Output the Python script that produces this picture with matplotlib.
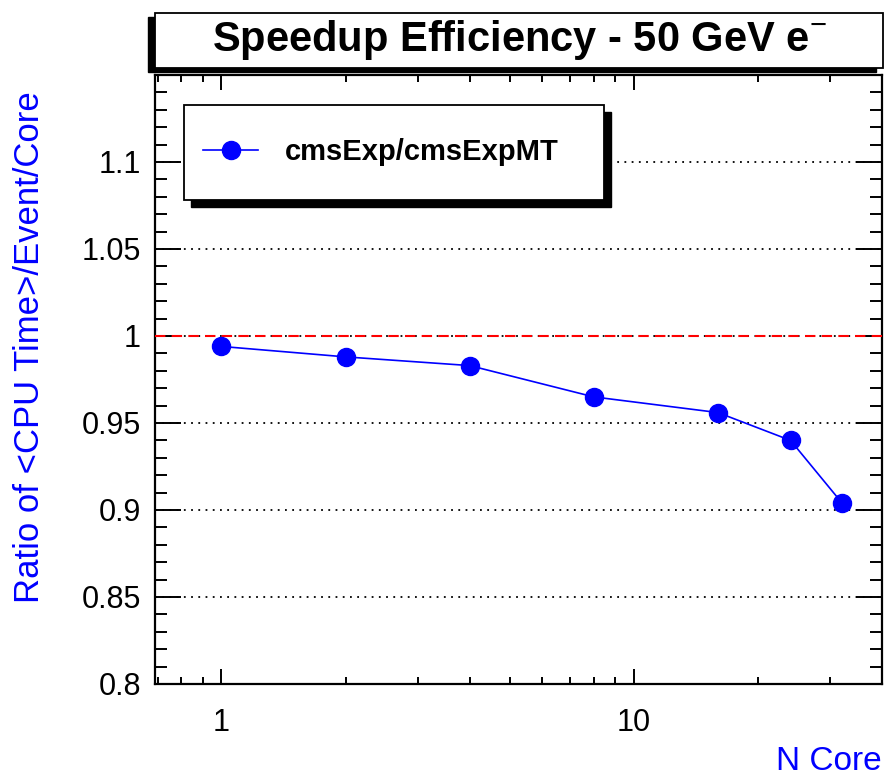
import matplotlib
matplotlib.use("Agg")
import matplotlib.pyplot as plt
from matplotlib.patches import Rectangle
from matplotlib.ticker import LogLocator, MultipleLocator, NullFormatter, FuncFormatter

# data
n_core = [1, 2, 4, 8, 16, 24, 32]
ratio = [0.994, 0.988, 0.983, 0.965, 0.956, 0.940, 0.904]
series_label = "cmsExp/cmsExpMT"
title = "Speedup Efficiency - 50 GeV e$^{-}$"
x_label = "N Core"
y_label = "Ratio of <CPU Time>/Event/Core"

plt.rcParams['font.family'] = ['Liberation Sans', 'DejaVu Sans']
plt.rcParams['mathtext.fontset'] = 'custom'
plt.rcParams['mathtext.rm'] = 'Liberation Sans'
plt.rcParams['mathtext.bf'] = 'Liberation Sans:bold'

fig = plt.figure(figsize=(8.86, 7.77), dpi=100)
ax = fig.add_axes([155 / 886, 1 - 684 / 777, (882 - 155) / 886, (684 - 75) / 777])

ax.plot(n_core, ratio, color='blue', lw=1.2, marker='o', markersize=13,
        label=series_label, zorder=4)
ax.axhline(1.0, color='red', lw=1.5, linestyle=(0, (5, 3)), zorder=3)

ax.set_xscale('log')
ax.set_xlim(0.69, 40)
ax.set_ylim(0.8, 1.15)

ax.xaxis.set_major_locator(LogLocator(base=10, numticks=10))
ax.xaxis.set_minor_locator(LogLocator(base=10, subs=range(2, 10), numticks=20))
ax.xaxis.set_major_formatter(FuncFormatter(lambda v, p: f"{v:g}"))
ax.xaxis.set_minor_formatter(NullFormatter())
ax.yaxis.set_major_locator(MultipleLocator(0.05))
ax.yaxis.set_minor_locator(MultipleLocator(0.01))
ax.yaxis.set_major_formatter(FuncFormatter(lambda v, p: f"{v:.10g}" if v < 1.149 else ""))

ax.tick_params(axis='both', which='both', direction='in', top=True, right=True,
               width=1.4, labelsize=22)
ax.tick_params(axis='y', which='major', length=19, pad=10)
ax.tick_params(axis='y', which='minor', length=8.5)
ax.tick_params(axis='x', which='major', length=11, pad=17)
ax.tick_params(axis='x', which='minor', length=5)
for s in ax.spines.values():
    s.set_linewidth(1.6)

ax.grid(axis='y', which='major', color='black', lw=1.3, linestyle=(0, (1, 3)))
ax.set_axisbelow(True)

ax.set_xlabel(x_label, color='blue', fontsize=24, loc='right')
ax.xaxis.set_label_coords(1.0, -(762 - 684) / 609)
ax.xaxis.label.set_va('center')
ax.set_ylabel(y_label, color='blue', fontsize=25)
ax.yaxis.set_label_coords(-(155 - 30) / 727, (684 - 347) / 609)
ax.yaxis.label.set_va('center')

# legend box with hard shadow (ROOT style)
lx0, lx1 = (184 - 155) / 727, (604 - 155) / 727
ly0, ly1 = (684 - 200) / 609, (684 - 105) / 609
ax.add_patch(Rectangle((lx0 + 7 / 727, ly0 - 7 / 609), lx1 - lx0, ly1 - ly0,
                       transform=ax.transAxes, fc='black', ec='black', zorder=6))
ax.add_patch(Rectangle((lx0, ly0), lx1 - lx0, ly1 - ly0, transform=ax.transAxes,
                       fc='white', ec='black', lw=1.3, zorder=7))
leg = ax.legend(loc='center left', bbox_to_anchor=((203 - 155) / 727, (ly0 + ly1) / 2),
                frameon=False, borderpad=0, borderaxespad=0, handlelength=1.9,
                handletextpad=0.9, prop={'weight': 'bold', 'size': 21})
leg.set_zorder(8)

# title box with shadow
tx0, tx1 = 155 / 886, 883 / 886
ty0, ty1 = 1 - 68 / 777, 1 - 13 / 777
fig.patches.append(Rectangle((tx0 - 7 / 886, ty0 - 4 / 777), tx1 - tx0, ty1 - ty0,
                             transform=fig.transFigure, fc='black', ec='black', zorder=1))
fig.patches.append(Rectangle((tx0, ty0), tx1 - tx0, ty1 - ty0, transform=fig.transFigure,
                             fc='white', ec='black', lw=1.3, zorder=2))
fig.text((tx0 + tx1) / 2, (ty0 + ty1) / 2, title, ha='center', va='center',
         fontsize=30, fontweight='bold', zorder=3)

fig.savefig("out.png", dpi=100)
